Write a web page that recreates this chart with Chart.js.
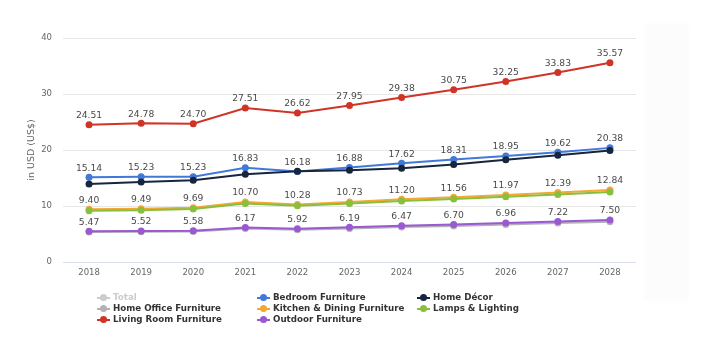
<!DOCTYPE html>
<html>
<head>
<meta charset="utf-8">
<script src="https://cdn.jsdelivr.net/npm/chart.js@4"></script>
<style>
  html, body { margin: 0; padding: 0; background: #fff; }
  #wrap { position: relative; width: 721px; height: 362px; }
  #side { position: absolute; left: 646px; top: 24px; width: 42px; height: 276px; background: #fcfcfd; box-shadow: 0 0 6px 2px #fdfdfe; }
  #legend { position: absolute; left: 0; top: 0; font-family: "DejaVu Sans", sans-serif; font-size: 8.7px; font-weight: bold; color: #333; }
  .item { position: absolute; height: 11px; line-height: 11px; white-space: nowrap; }
  .mk { position: absolute; left: 0; top: 4.5px; width: 13px; height: 2px; }
  .dot { position: absolute; left: 3px; top: -2.5px; width: 7px; height: 7px; border-radius: 50%; }
  .txt { position: absolute; left: 16px; top: 0; }
</style>
</head>
<body>
<div id="wrap">
  <div id="side"></div>
  <canvas id="chart" width="721" height="362" style="position:absolute;left:0;top:0"></canvas>
  <div id="legend"></div>
</div>
<script>
const years = ["2018", "2019", "2020", "2021", "2022", "2023", "2024", "2025", "2026", "2027", "2028"];

const total = [];
const bedroom = [15.14, 15.23, 15.23, 16.83, 16.18, 16.88, 17.62, 18.31, 18.95, 19.62, 20.38];
const homeDecor = [13.95, 14.3, 14.6, 15.65, 16.2, 16.4, 16.75, 17.4, 18.25, 19.05, 19.9];
const homeOffice = [5.35, 5.4, 5.45, 6.0, 5.75, 6.0, 6.25, 6.45, 6.7, 6.95, 7.2];
const kitchen = [9.40, 9.49, 9.69, 10.70, 10.28, 10.73, 11.20, 11.56, 11.97, 12.39, 12.84];
const lamps = [9.15, 9.25, 9.45, 10.45, 10.05, 10.45, 10.9, 11.25, 11.65, 12.05, 12.5];
const livingRoom = [24.51, 24.78, 24.70, 27.51, 26.62, 27.95, 29.38, 30.75, 32.25, 33.83, 35.57];
const outdoor = [5.47, 5.52, 5.58, 6.17, 5.92, 6.19, 6.47, 6.70, 6.96, 7.22, 7.50];

const yTicks = [0, 10, 20, 30, 40];

const series = [
  { label: "Total", data: total, color: "#cccccc", hidden: true },
  { label: "Bedroom Furniture", data: bedroom, color: "#4278d8", labels: true },
  { label: "Home Décor", data: homeDecor, color: "#17253d" },
  { label: "Home Office Furniture", data: homeOffice, color: "#b3b3b3" },
  { label: "Kitchen & Dining Furniture", data: kitchen, color: "#f5a733", labels: true },
  { label: "Lamps & Lighting", data: lamps, color: "#88bf3f" },
  { label: "Living Room Furniture", data: livingRoom, color: "#cf3426", labels: true },
  { label: "Outdoor Furniture", data: outdoor, color: "#9a58d2", labels: true }
];

const font = "DejaVu Sans";

// value labels above points
const valueLabels = {
  id: "valueLabels",
  afterDatasetsDraw(chart) {
    const ctx = chart.ctx;
    ctx.save();
    ctx.font = "9.2px '" + font + "'";
    ctx.fillStyle = "#4a4a4a";
    ctx.textAlign = "center";
    ctx.textBaseline = "middle";
    chart.data.datasets.forEach((ds, i) => {
      if (!ds.showLabels) return;
      chart.getDatasetMeta(i).data.forEach((pt, j) => {
        ctx.fillText(ds.data[j].toFixed(2), pt.x, pt.y - 9);
      });
    });
    ctx.restore();
  }
};

new Chart(document.getElementById("chart"), {
  type: "line",
  data: {
    labels: years,
    datasets: series.map((s, i) => ({
      label: s.label,
      data: s.data,
      hidden: !!s.hidden,
      showLabels: !!s.labels,
      borderColor: s.color,
      backgroundColor: s.color,
      borderWidth: 2,
      pointRadius: 3.5,
      pointHoverRadius: 3.5,
      pointBorderWidth: 0,
      tension: 0,
      order: -i
    }))
  },
  options: {
    responsive: false,
    animation: false,
    events: [],
    layout: { padding: { left: 0, right: 85, top: 38, bottom: 78 } },
    plugins: { legend: { display: false }, tooltip: { enabled: false } },
    scales: {
      x: {
        offset: true,
        grid: { display: false, drawTicks: false },
        border: { display: false },
        ticks: { color: "#666", font: { family: font, size: 8.5 }, padding: 6 },
        afterFit(scale) { scale.height = 22; }
      },
      y: {
        min: 0,
        max: 40,
        afterBuildTicks(scale) { scale.ticks = yTicks.map(v => ({ value: v })); },
        grid: {
          drawTicks: false,
          color: ctx => ctx.tick && ctx.tick.value === 0 ? "#d8dfe9" : "#e6e6e6",
          lineWidth: 1
        },
        border: { display: false },
        ticks: { color: "#666", font: { family: font, size: 8.5 }, padding: 11 },
        title: {
          display: true,
          text: "in USD (US$)",
          color: "#666",
          font: { family: font, size: 9.5 },
          padding: { top: 26, bottom: 0 }
        },
        afterFit(scale) { scale.width = 63; }
      }
    }
  },
  plugins: [valueLabels]
});

// legend in three columns
const legend = document.getElementById("legend");
const cols = [97, 257, 417];
const rows = [292, 303, 314];
series.forEach((s, i) => {
  const item = document.createElement("div");
  item.className = "item";
  item.style.left = cols[i % 3] + "px";
  item.style.top = rows[Math.floor(i / 3)] + "px";
  const mk = document.createElement("span");
  mk.className = "mk";
  mk.style.background = s.color;
  const dot = document.createElement("span");
  dot.className = "dot";
  dot.style.background = s.color;
  mk.appendChild(dot);
  const txt = document.createElement("span");
  txt.className = "txt";
  txt.textContent = s.label;
  if (s.hidden) txt.style.color = "#cccccc";
  item.appendChild(mk);
  item.appendChild(txt);
  legend.appendChild(item);
});
</script>
</body>
</html>
